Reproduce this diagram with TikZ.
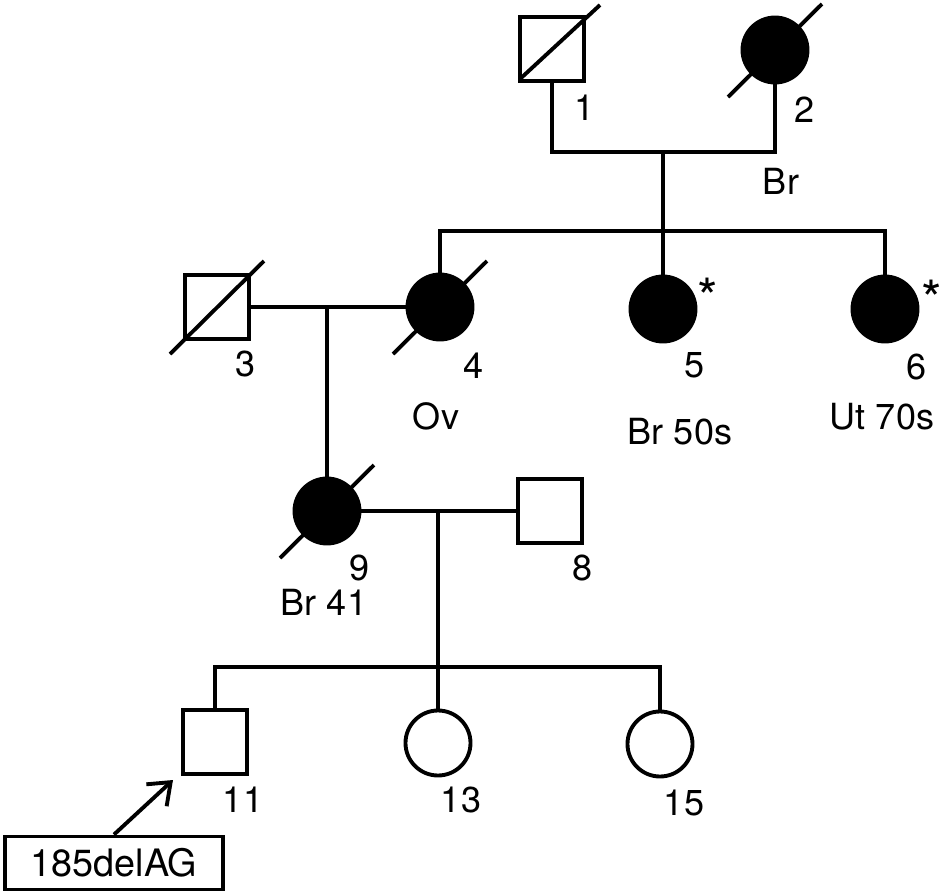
\documentclass[tikz,border=0pt]{standalone}
\usepackage{fontspec}
\setmainfont{TeX Gyre Heros}
\usetikzlibrary{arrows.meta}

\begin{document}
\begin{tikzpicture}[
    x=0.2mm, y=-0.2mm, line width=2.2pt,
    male/.style={draw, rectangle, minimum size=1.28cm, inner sep=0pt},
    female/.style={draw, circle, minimum size=1.3cm, inner sep=0pt},
    affected/.style={fill=black},
    lbl/.style={inner sep=0pt, font=\fontsize{20.5}{24}\selectfont},
    star/.style={inner sep=0pt, anchor=north, font=\fontsize{30}{34}\selectfont},
    mutbox/.style={draw, minimum width=4.36cm, minimum height=1.06cm,
                   inner sep=0pt, font=\fontsize{21.5}{26}\selectfont},
    pointer/.style={-{Straight Barb[length=11pt,width=17pt]}}]
  \useasboundingbox (0,0) rectangle (943,894);
  % generation I
  \node[male] (n1) at (552,49) {};
  \node[female, affected] (n2) at (775,50) {};
  \coordinate (m12) at (663,152);
  \coordinate (s1) at (663,231);
  % generation II
  \node[male] (n3) at (217,307) {};
  \node[female, affected] (n4) at (440,307) {};
  \node[female, affected] (n5) at (663,309) {};
  \node[female, affected] (n6) at (885,309) {};
  \coordinate (m34) at (327,307);
  % generation III
  \node[female, affected] (n9) at (327,511) {};
  \node[male] (n8) at (550,511) {};
  \coordinate (m98) at (438,511);
  \coordinate (s3) at (438,667);
  % generation IV
  \node[male] (n11) at (215,742) {};
  \node[female] (n13) at (438,743) {};
  \node[female] (n15) at (660,744) {};
  % lines of descent
  \draw (n1) |- (m12) -| (n2);
  \draw (m12) -- (s1);
  \draw (n4) |- (s1) -| (n6);
  \draw (s1) -- (n5);
  \draw (n3) -- (n4);
  \draw (m34) -- (n9);
  \draw (n9) -- (n8);
  \draw (m98) -- (s3);
  \draw (n11) |- (s3) -| (n15);
  \draw (s3) -- (n13);
  % deceased
  \draw ([shift={(-32,30)}]n1.center) -- ([shift={(48,-44)}]n1.center);
  \foreach \n in {n2,n3,n4,n9}
    \draw ([shift={(-47,47)}]\n.center) -- ([shift={(47,-46)}]\n.center);
  % labels
  \node[lbl] (l1) at (585,108) {1};
  \node[lbl] (l2) at (805,110) {2};
  \node[lbl] (c2) at (781,181) {Br};
  \node[lbl] (l3) at (246,364) {3};
  \node[lbl] (l4) at (474,366) {4};
  \node[lbl] (c4) at (436,416) {Ov};
  \node[lbl] (l5) at (695,365) {5};
  \node[star] (a5) at (708,276) {*};
  \node[lbl] (c5) at (680,432) {Br 50s};
  \node[lbl] (l6) at (917,367) {6};
  \node[star] (a6) at (932,278) {*};
  \node[lbl] (c6) at (882,417) {Ut 70s};
  \node[lbl] (l9) at (360,568) {9};
  \node[lbl] (c9) at (324,602) {Br 41};
  \node[lbl] (l8) at (583,568) {8};
  \node[lbl] (l11) at (243,800) {11};
  \node[lbl] (l13) at (461,800) {13};
  \node[lbl] (l15) at (684,803) {15};
  % proband
  \node[mutbox] (mut) at (114,863) {185delAG};
  \coordinate (tip) at (173,780);
  \draw[pointer] (mut.north) -- (tip);
\end{tikzpicture}
\end{document}
